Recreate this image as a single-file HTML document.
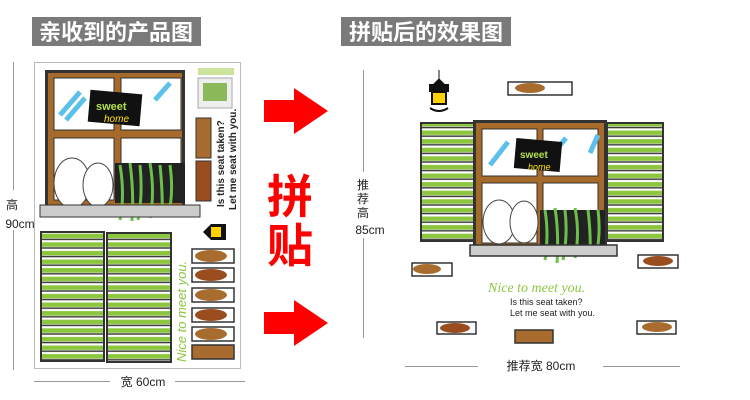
<!DOCTYPE html>
<html><head><meta charset="utf-8"><style>
html,body{margin:0;padding:0;background:#fff;}
svg{display:block;font-family:"Liberation Sans","Noto Sans CJK SC",sans-serif;}
</style></head><body>
<svg width="750" height="400" viewBox="0 0 750 400" xmlns="http://www.w3.org/2000/svg">
<defs>
<pattern id="sl" x="0" y="0" width="10" height="8.6" patternUnits="userSpaceOnUse">
<rect width="10" height="8.6" fill="#fff"/>
<rect y="1.5" width="10" height="4.5" fill="#8cc63f"/>
<rect y="6.5" width="10" height="1.4" fill="#333"/>
</pattern>
</defs>
<rect x="32" y="17" width="169" height="29" fill="#7a7a7a"/>
<text x="116" y="40" font-size="22" font-weight="bold" fill="#fff" text-anchor="middle">亲收到的产品图</text>
<rect x="341" y="17" width="170" height="29" fill="#7a7a7a"/>
<text x="426" y="40" font-size="22" font-weight="bold" fill="#fff" text-anchor="middle">拼贴后的效果图</text>

<rect x="34.5" y="62.5" width="206" height="306" fill="#fff" stroke="#bbb"/>
<rect x="45" y="70" width="140" height="140" fill="#333"/>
<rect x="48" y="73" width="134" height="134" fill="#a66a2a"/>
<rect x="54" y="78" width="60" height="52" fill="#fff" stroke="#333"/>
<rect x="121" y="78" width="60" height="52" fill="#fff" stroke="#333"/>
<rect x="54" y="138" width="60" height="62" fill="#fff" stroke="#333"/>
<rect x="121" y="138" width="60" height="62" fill="#fff" stroke="#333"/>
<path d="M60 115 L80 92 M66 120 L85 98 M155 100 L170 83" stroke="#5bc0eb" stroke-width="5"/>
<rect x="89" y="92" width="52" height="32" fill="#111" transform="rotate(5 115 108)"/>
<text x="96" y="110" font-size="11" font-weight="bold" fill="#b5e04a">sweet</text>
<text x="104" y="122" font-size="10" font-style="italic" fill="#ffe100">home</text>
<ellipse cx="72" cy="183" rx="18" ry="25" fill="#fff" stroke="#444"/>
<ellipse cx="98" cy="185" rx="15" ry="22" fill="#fff" stroke="#444"/>
<rect x="115" y="163" width="70" height="40" fill="#222"/>
<path d="M120 165 q5 30 0 55 M130 163 q4 30 2 58 M140 165 q3 30 -2 55 M150 163 q5 30 0 55 M160 165 q3 30 2 50 M170 165 q4 30 -2 50" stroke="#6cc04a" stroke-width="3" fill="none"/>
<rect x="40" y="205" width="160" height="12" fill="#ccc" stroke="#333"/>
<rect x="198" y="68" width="36" height="7" fill="#cde29a"/>
<rect x="198" y="78" width="34" height="30" fill="#eee" stroke="#aaa"/>
<rect x="203" y="83" width="24" height="18" fill="#8bb95a"/>
<rect x="196" y="118" width="15" height="40" fill="#a86c2e" stroke="#333"/>
<rect x="196" y="161" width="15" height="40" fill="#9a4e20" stroke="#333"/>
<text transform="translate(224 207) rotate(-90)" font-size="10" font-weight="bold" fill="#222">Is this seat taken?</text>
<text transform="translate(236 210) rotate(-90)" font-size="10" font-weight="bold" fill="#222">Let me seat with you.</text>
<path d="M183 232 h20 l8 -8 l15 0 l0 16 l-15 0 l-8 -8" fill="#111"/>
<rect x="211" y="227" width="10" height="10" fill="#ffd200"/>
<rect x="41" y="232" width="63" height="129" fill="url(#sl)" stroke="#333" stroke-width="2"/>
<rect x="107" y="233" width="64" height="129" fill="url(#sl)" stroke="#333" stroke-width="2"/>
<text transform="translate(186 362) rotate(-90)" font-size="13" font-style="italic" fill="#8cc63f">Nice to meet you.</text>
<rect x="192" y="249" width="42" height="14" fill="#fff" stroke="#333" stroke-width="1.5"/><ellipse cx="211" cy="256" rx="16" ry="6" fill="#a86c2e"/>
<rect x="192" y="268" width="42" height="14" fill="#fff" stroke="#333" stroke-width="1.5"/><ellipse cx="211" cy="275" rx="16" ry="6" fill="#9a4e20"/>
<rect x="192" y="288" width="42" height="14" fill="#fff" stroke="#333" stroke-width="1.5"/><ellipse cx="211" cy="295" rx="16" ry="6" fill="#a86c2e"/>
<rect x="192" y="308" width="42" height="14" fill="#fff" stroke="#333" stroke-width="1.5"/><ellipse cx="211" cy="315" rx="16" ry="6" fill="#9a4e20"/>
<rect x="192" y="327" width="42" height="14" fill="#fff" stroke="#333" stroke-width="1.5"/><ellipse cx="211" cy="334" rx="16" ry="6" fill="#a86c2e"/>
<rect x="192" y="345" width="42" height="14" fill="#a86c2e" stroke="#333" stroke-width="1.5"/>

<line x1="13.5" y1="62" x2="13.5" y2="190" stroke="#999"/>
<line x1="13.5" y1="230" x2="13.5" y2="370" stroke="#999"/>
<text x="12" y="209" font-size="12" fill="#222" text-anchor="middle">高</text>
<text x="20" y="228" font-size="12" fill="#222" text-anchor="middle">90cm</text>
<line x1="34" y1="381.5" x2="110" y2="381.5" stroke="#999"/>
<line x1="175" y1="381.5" x2="245" y2="381.5" stroke="#999"/>
<text x="143" y="386" font-size="12" fill="#222" text-anchor="middle">宽 60cm</text>

<path d="M264 100 h30 v-12 l34 23 l-34 23 v-12 h-30z" fill="#f00"/>
<path d="M264 312 h30 v-12 l34 23 l-34 23 v-12 h-30z" fill="#f00"/>
<text x="290" y="213" font-size="46" font-weight="bold" fill="#f00" text-anchor="middle">拼</text>
<text x="290" y="262" font-size="46" font-weight="bold" fill="#f00" text-anchor="middle">贴</text>

<line x1="363.5" y1="70" x2="363.5" y2="172" stroke="#999"/>
<line x1="363.5" y1="238" x2="363.5" y2="338" stroke="#999"/>
<text x="363" y="189" font-size="12" fill="#222" text-anchor="middle">推</text>
<text x="363" y="203" font-size="12" fill="#222" text-anchor="middle">荐</text>
<text x="363" y="217" font-size="12" fill="#222" text-anchor="middle">高</text>
<text x="370" y="234" font-size="12" fill="#222" text-anchor="middle">85cm</text>
<line x1="405" y1="366.5" x2="478" y2="366.5" stroke="#999"/>
<line x1="603" y1="366.5" x2="680" y2="366.5" stroke="#999"/>
<text x="541" y="370" font-size="12" fill="#222" text-anchor="middle">推荐宽  80cm</text>

<path d="M439 70 v10 M433 85 l6 -6 l6 6z" stroke="#111" fill="#111"/>
<rect x="429" y="84" width="20" height="8" fill="#111"/>
<rect x="432" y="92" width="14" height="12" fill="#ffd200" stroke="#111" stroke-width="2"/>
<path d="M430 108 q9 6 18 0" stroke="#111" stroke-width="2" fill="none"/>
<rect x="508" y="82" width="64" height="13" fill="#fff" stroke="#333" stroke-width="1.5"/><ellipse cx="530" cy="88" rx="15" ry="5" fill="#a86c2e"/>
<rect x="421" y="123" width="54" height="118" fill="url(#sl)" stroke="#333" stroke-width="2"/>
<rect x="607" y="123" width="56" height="118" fill="url(#sl)" stroke="#333" stroke-width="2"/>
<rect x="473" y="120" width="134" height="127" fill="#333"/>
<rect x="476" y="123" width="128" height="122" fill="#a66a2a"/>
<rect x="482" y="129" width="55" height="47" fill="#fff" stroke="#333"/>
<rect x="543" y="129" width="55" height="47" fill="#fff" stroke="#333"/>
<rect x="482" y="183" width="55" height="60" fill="#fff" stroke="#333"/>
<rect x="543" y="183" width="55" height="60" fill="#fff" stroke="#333"/>
<path d="M490 165 L508 142 M556 150 L566 138 M590 153 l8 -18" stroke="#5bc0eb" stroke-width="5"/>
<rect x="515" y="140" width="46" height="30" fill="#111" transform="rotate(5 538 155)"/>
<text x="520" y="158" font-size="10" font-weight="bold" fill="#b5e04a">sweet</text>
<text x="528" y="170" font-size="9" font-style="italic" fill="#ffe100">home</text>
<ellipse cx="499" cy="222" rx="16" ry="22" fill="#fff" stroke="#444"/>
<ellipse cx="524" cy="222" rx="14" ry="21" fill="#fff" stroke="#444"/>
<rect x="540" y="210" width="65" height="35" fill="#222"/>
<path d="M545 210 q4 25 0 50 M555 208 q4 25 2 55 M565 210 q3 25 -2 50 M575 208 q5 25 0 50 M588 210 q3 25 2 45 M598 210 q3 25 -2 45" stroke="#6cc04a" stroke-width="3" fill="none"/>
<rect x="470" y="245" width="147" height="11" fill="#ccc" stroke="#333" stroke-width="1.5"/>
<rect x="412" y="263" width="40" height="13" fill="#fff" stroke="#333" stroke-width="1.5"/><ellipse cx="427" cy="269" rx="14" ry="5" fill="#a86c2e"/>
<rect x="638" y="255" width="40" height="13" fill="#fff" stroke="#333" stroke-width="1.5"/><ellipse cx="658" cy="261" rx="15" ry="5" fill="#9a4e20"/>
<rect x="437" y="322" width="39" height="12" fill="#fff" stroke="#333" stroke-width="1.5"/><ellipse cx="455" cy="328" rx="15" ry="5" fill="#9a4e20"/>
<rect x="515" y="330" width="38" height="13" fill="#a86c2e" stroke="#333" stroke-width="1.5"/>
<rect x="637" y="321" width="39" height="13" fill="#fff" stroke="#333" stroke-width="1.5"/><ellipse cx="657" cy="327" rx="15" ry="5" fill="#a86c2e"/>
<text x="488" y="292" font-size="14" font-style="italic" fill="#8cc63f" font-family="Liberation Serif,serif">Nice to meet you.</text>
<text x="510" y="305" font-size="9" fill="#222">Is this seat taken?</text>
<text x="510" y="316" font-size="9" fill="#222">Let me seat with you.</text>
</svg>
</body></html>
